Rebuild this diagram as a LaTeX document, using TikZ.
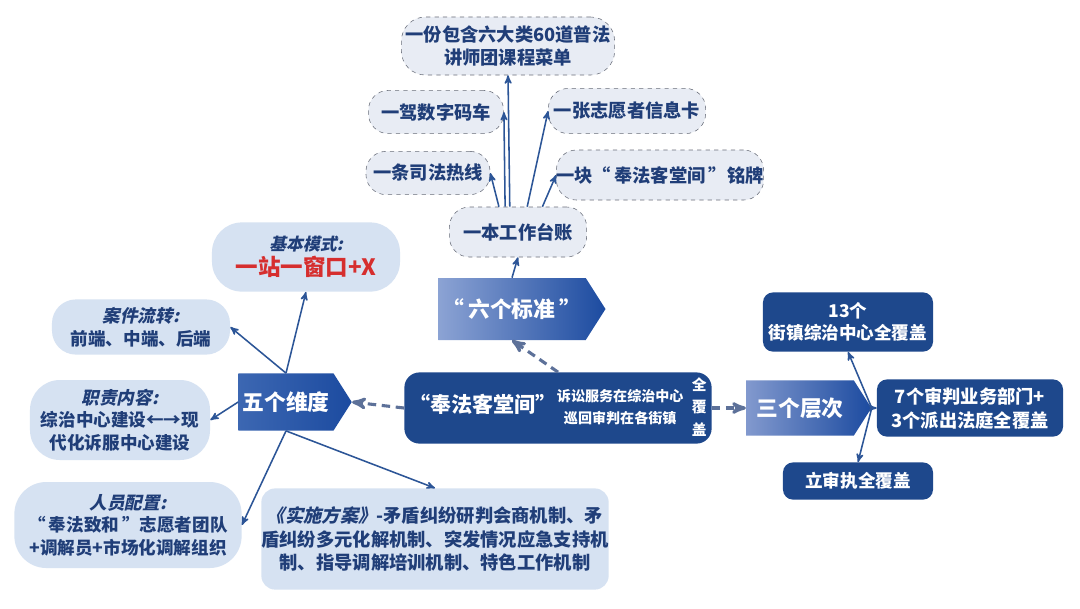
\documentclass[tikz,border=0pt]{standalone}
\usepackage{fontspec}
\setmainfont{Noto Sans CJK SC}
\newfontfamily\slantfont{Noto Sans CJK SC}[FakeSlant=0.22]
\usetikzlibrary{shapes.symbols,arrows,calc}
\definecolor{navy}{RGB}{30,72,140}
\definecolor{textblue}{RGB}{32,62,120}
\definecolor{lightbox}{RGB}{214,226,242}
\definecolor{paleBox}{RGB}{232,236,244}
\definecolor{dashgrey}{RGB}{105,110,122}
\definecolor{arrowblue}{RGB}{44,85,151}
\definecolor{linkgrey}{RGB}{93,113,153}
\definecolor{redtext}{RGB}{214,46,46}
\definecolor{sixL}{RGB}{140,163,212}
\definecolor{fiveL}{RGB}{60,103,178}
\definecolor{threeL}{RGB}{130,153,206}
\definecolor{arrowR}{RGB}{28,75,160}

\begin{document}
\begin{tikzpicture}[x=0.025cm,y=-0.025cm,
  every node/.style={font=\fontsize{12.5}{16}\selectfont\bfseries},
  item/.style={draw=dashgrey,dashed,fill=paleBox,rounded corners=0.5cm,
    text=textblue,align=center,inner sep=0pt,font=\fontsize{13}{17}\selectfont\bfseries},
  fact/.style={fill=lightbox,rounded corners=0.6cm,text=textblue,
    align=center,inner sep=0pt},
  cover/.style={fill=navy,rounded corners=0.25cm,text=white,align=center,inner sep=0pt},
  tag/.style={signal,signal to=east,signal pointer angle=115,text=white,
    inner sep=0pt,font=\fontsize{15.5}{18}\selectfont\bfseries},
  arr/.style={draw=arrowblue,line width=1.1pt,-stealth'},
  link/.style={draw=linkgrey,line width=2.2pt,dash pattern=on 6pt off 4pt,-stealth'}]
  \useasboundingbox[fill=white] (0,0) rectangle (1080,608);
  % top: six standards
  \node[item,minimum width=5.33cm,minimum height=1.45cm,rounded corners=0.6cm]
    (menu) at (508,46) {一份包含六大类60道普法\\讲师团课程菜单};
  \node[item,minimum width=3.38cm,minimum height=1.08cm] (car) at (436,112) {一驾数字码车};
  \node[item,minimum width=3.93cm,minimum height=1.13cm] (card) at (627,111) {一张志愿者信息卡};
  \node[item,minimum width=3.1cm,minimum height=1.08cm] (hotline) at (428,173) {一条司法热线};
  \node[item,minimum width=5.15cm,minimum height=1.25cm] (plate) at (660,175) {一块“\,奉法客堂间\,”铭牌};
  \node[item,minimum width=3.43cm,minimum height=1.25cm] (ledger) at (518,232) {一本工作台账};
  \node[tag,left color=sixL,right color=arrowR,minimum width=4.18cm,minimum height=1.55cm]
    (six) at (512,309) {“\,六个标准\,”};
  % centre
  \node[cover,rounded corners=0.38cm,minimum width=7.68cm,minimum height=1.78cm]
    (core) at (558,408) {{\fontsize{15}{18}\selectfont “奉法客堂间”}%
    \begin{tabular}{@{}c@{}}\fontsize{10}{16}\selectfont 诉讼服务在综治中心\\
      \fontsize{10}{16}\selectfont 巡回审判在各街镇\end{tabular}\hspace{6pt}%
    \begin{tabular}{@{}c@{}}\fontsize{10.5}{12}\selectfont 全\\
      \fontsize{10.5}{12}\selectfont 覆\\ \fontsize{10.5}{12}\selectfont 盖\end{tabular}};
  % left: five dimensions
  \node[tag,left color=fiveL,right color=arrowR,minimum width=2.83cm,minimum height=1.43cm]
    (five) at (286,402) {五个维度};
  \node[fact,minimum width=4.7cm,minimum height=1.73cm,rounded corners=0.75cm]
    (mode) at (306,257) {{\slantfont\fontsize{12}{15}\selectfont 基本模式:}\\[2pt]
    {\color{redtext}\fontsize{16}{19}\selectfont 一站一窗口+X}};
  \node[fact,minimum width=4.45cm,minimum height=1.38cm] (flow) at (141,327)
    {{\slantfont 案件流转:}\\前端、中端、后端};
  \node[fact,minimum width=4.5cm,minimum height=2cm,rounded corners=0.75cm] (duty) at (120,420)
    {{\slantfont 职责内容:}\\综治中心建设←→现\\代化诉服中心建设};
  \node[fact,minimum width=5.68cm,minimum height=2.15cm,rounded corners=0.8cm] (staff) at (128,525)
    {{\slantfont 人员配置:}\\“\,奉法致和\,”志愿者团队\\+调解员+市场化调解组织};
  \node[fact,minimum width=8.65cm,minimum height=2.53cm,rounded corners=0.35cm,
    font=\fontsize{13}{17}\selectfont\bfseries] (plan) at (435,539)
    {{\slantfont 《实施方案》}-矛盾纠纷研判会商机制、矛\\盾纠纷多元化解机制、突发情况应急支持机\\制、指导调解培训机制、特色工作机制};
  % right: three levels
  \node[tag,left color=threeL,right color=arrowR,minimum width=3.13cm,minimum height=1.38cm]
    (three) at (800,408) {三个层次};
  \node[cover,minimum width=4.25cm,minimum height=1.48cm] (town) at (848,322)
    {13个\\街镇综治中心全覆盖};
  \node[cover,minimum width=4.65cm,minimum height=1.43cm,font=\fontsize{13}{17}\selectfont\bfseries]
    (court) at (970,408) {7个审判业务部门+\\3个派出法庭全覆盖};
  \node[cover,minimum width=3.75cm,minimum height=0.93cm] (trial) at (858,481) {立审执全覆盖};
  % connectors
  \draw[arr] (ledger.108) -- (menu.south);
  \draw[arr] (ledger.117) -- (car.east);
  \draw[arr] (ledger.127) -- (hotline.east);
  \draw[arr] (ledger.70) -- (card.west);
  \draw[arr] (ledger.46) -- (plate.west);
  \draw[arr] (six.north) -- (ledger.south);
  \draw[link] (core.north) -- (six.south);
  \draw[link] (core.west) -- (five.east);
  \draw[link] (core.east) -- (three.west);
  \draw[arr] (five.north) -- (mode.south);
  \draw[arr] (five.north) -- (flow.east);
  \draw[arr] (five.west) -- (duty.east);
  \draw[arr] (five.south) -- (staff.east);
  \draw[arr] (five.south) -- (plan.north);
  \draw[arr] (three.east) -- (town.south);
  \draw[arr] (three.east) -- (court.west);
  \draw[arr] (three.east) -- (trial.north);
\end{tikzpicture}
\end{document}
